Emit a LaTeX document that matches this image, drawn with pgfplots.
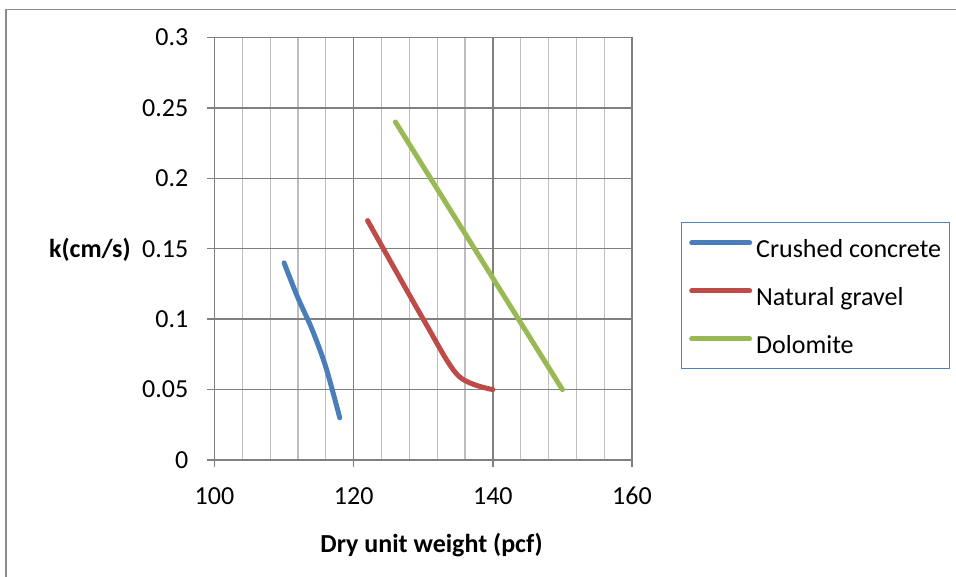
\documentclass[border=0pt]{standalone}
\usepackage{fontspec}
\setmainfont{Carlito}
\usepackage{pgfplots}
\pgfplotsset{compat=1.18}

\definecolor{seriesblue}{HTML}{4A7EBB}
\definecolor{seriesred}{HTML}{BE4B48}
\definecolor{seriesgreen}{HTML}{98B954}
\definecolor{majorgray}{HTML}{808080}
\definecolor{minorgray}{HTML}{BEBEBE}
\definecolor{framegray}{HTML}{8C8C8C}
\definecolor{legendblue}{HTML}{4F81BD}

\begin{document}
\begin{tikzpicture}[x=1pt,y=1pt]
\useasboundingbox (0,0) rectangle (956,577);
% chart area frame
\draw[framegray, line width=1.3pt] (6,-5) -- (6,567.5) -- (962,567.5);
\begin{axis}[
  at={(214.5pt,117pt)}, anchor=south west,
  scale only axis, width=417.5pt, height=422.5pt,
  xmin=100, xmax=160, ymin=0, ymax=0.3,
  xtick={100,120,140,160}, minor x tick num=4,
  ytick={0,0.05,0.1,0.15,0.2,0.25,0.3},
  axis lines*=left,
  axis line style={majorgray, line width=1.4pt},
  xmajorgrids, xminorgrids, ymajorgrids,
  major grid style={majorgray, line width=1.4pt},
  minor grid style={minorgray, line width=1.3pt},
  tick align=outside, major tick length=7pt, minor tick length=0pt,
  tick style={majorgray, line width=1.4pt},
  /pgf/number format/assume math mode=true,
  /pgf/number format/fixed, /pgf/number format/precision=2,
  tick label style={font=\fontsize{26}{31}\selectfont, inner sep=0pt},
  yticklabel style={xshift=-19pt},
  xticklabel style={yshift=-20pt},
  xlabel={Dry unit weight (pcf)},
  ylabel={k(cm/s)},
  label style={font=\fontsize{26}{31}\selectfont\bfseries},
  xlabel style={at={(rel axis cs:0.52,-0.2199)}, anchor=base},
  ylabel style={rotate=-90, at={(rel axis cs:-0.1924,0.497)}, anchor=east},
  legend cell align=left,
  legend style={at={(rel axis cs:1.1164,0.5626)}, anchor=north west,
    draw=legendblue, line width=1.2pt,
    font=\fontsize{26}{31}\selectfont,
    inner xsep=8pt, inner ysep=13pt, row sep=24pt, column sep=4pt,
    nodes={inner sep=0pt, text height=22pt, text depth=2pt, anchor=west}},
  legend image code/.code={\draw[#1] (0pt,5pt) -- (58pt,5pt);},
  every axis plot/.append style={line width=5pt, line cap=round, line join=round},
]
\addplot[seriesblue, smooth] coordinates {
  (110,0.14) (112,0.115) (114,0.093) (116,0.066) (118,0.03)};
\addlegendentry{Crushed concrete}
\addplot[seriesred, smooth] coordinates {
  (122,0.17) (130,0.10) (135,0.06) (140,0.05)};
\addlegendentry{Natural gravel}
\addplot[seriesgreen] coordinates {
  (126,0.24) (150,0.05)};
\addlegendentry{Dolomite}
\end{axis}
\end{tikzpicture}
\end{document}
